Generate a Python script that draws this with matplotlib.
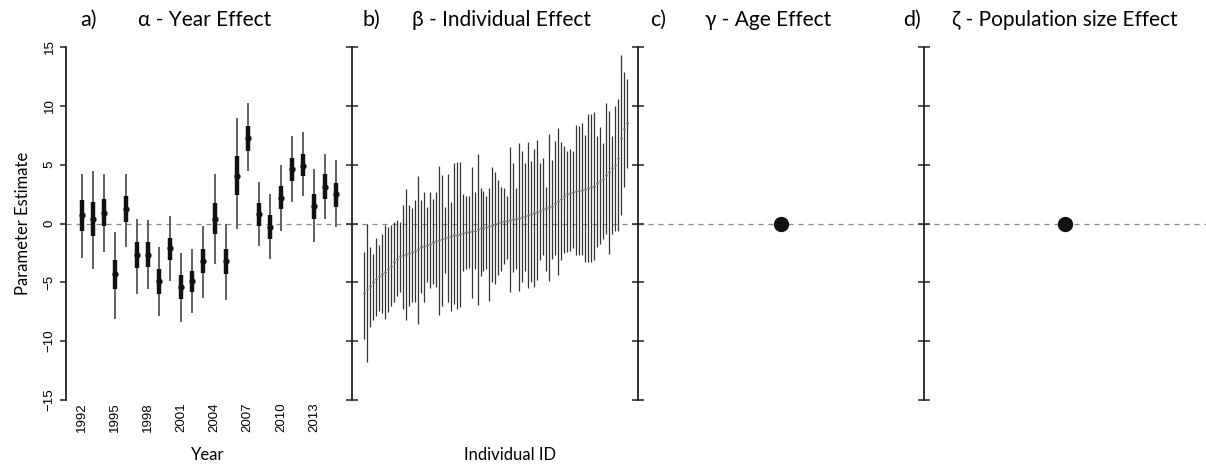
import numpy as np
import matplotlib
matplotlib.use("Agg")
import matplotlib.pyplot as plt

# ---- a) year effect ----
years = list(range(1992, 2016))
year_mean = [0.7, 0.4, 0.9, -4.3, 1.2, -2.7, -2.7, -4.9, -2.1, -5.4, -4.9, -3.2,
             0.4, -3.2, 4.0, 7.3, 0.8, -0.3, 2.2, 4.6, 4.9, 1.5, 3.1, 2.5]
year_lo95 = [-2.9, -3.9, -2.4, -8.1, -2.0, -6.0, -5.6, -7.9, -4.9, -8.4, -7.6, -6.3,
             -3.4, -6.5, -0.5, 4.5, -1.9, -3.0, -0.6, 1.8, 2.3, -1.6, 0.4, -0.3]
year_hi95 = [4.2, 4.5, 4.2, -0.7, 4.2, 0.4, 0.3, -2.0, 0.6, -2.5, -2.2, -0.2,
             4.2, 0.0, 9.0, 10.2, 3.5, 2.5, 5.0, 7.4, 7.8, 4.6, 5.9, 5.4]
year_lo50 = [-0.6, -1.1, -0.2, -5.6, 0.1, -3.8, -3.7, -6.0, -3.1, -6.4, -5.8, -4.2,
             -0.85, -4.3, 2.4, 6.2, -0.2, -1.3, 1.2, 3.6, 4.0, 0.4, 2.1, 1.4]
year_hi50 = [2.0, 1.8, 2.1, -3.1, 2.3, -1.6, -1.6, -3.9, -1.2, -4.4, -4.0, -2.2,
             1.75, -2.2, 5.7, 8.3, 1.75, 0.7, 3.2, 5.6, 5.9, 2.5, 4.2, 3.4]
year_ticks = [1992, 1995, 1998, 2001, 2004, 2007, 2010, 2013]

# ---- b) individual effect (sorted by estimate) ----
ind_mean = [-5.9, -5.6, -5.3, -5.0, -4.7, -4.5, -4.3, -4.1, -3.9, -3.6,
            -3.3, -3.0, -2.8, -2.7, -2.6, -2.5, -2.4, -2.3, -2.2, -2.0,
            -1.9, -1.8, -1.7, -1.6, -1.5, -1.4, -1.3, -1.2, -1.15, -1.1,
            -1.0, -0.95, -0.9, -0.8, -0.75, -0.7, -0.65, -0.6, -0.5, -0.4,
            -0.35, -0.3, -0.2, -0.1, 0.0, 0.05, 0.1, 0.2, 0.25, 0.3,
            0.35, 0.4, 0.5, 0.55, 0.6, 0.7, 0.8, 0.9, 1.0, 1.1,
            1.2, 1.3, 1.4, 1.5, 1.7, 1.9, 2.1, 2.3, 2.5, 2.6,
            2.7, 2.75, 2.8, 2.85, 2.9, 3.0, 3.1, 3.2, 3.4, 3.6,
            3.8, 4.1, 4.4, 4.7, 5.0, 5.6, 7.3, 8.0, 8.5]
ind_hi = [-2.4, 0.0, -2.0, -2.6, -1.2, -1.8, -0.9, -0.1, -0.3, -0.1,
          0.1, 0.3, 0.1, 1.6, 2.9, 1.6, 1.3, 2.0, 4.0, 2.0,
          2.7, 1.4, 2.7, 2.1, 2.7, 4.9, 4.1, 1.4, 4.2, 1.8,
          5.1, 5.2, 5.2, 2.5, 2.3, 2.3, 4.8, 2.7, 5.9, 3.0,
          2.8, 2.3, 3.0, 4.8, 4.4, 3.7, 3.1, 3.0, 2.3, 6.5,
          5.1, 3.0, 6.8, 6.2, 5.1, 6.9, 5.3, 6.3, 7.1, 5.1,
          5.6, 3.1, 7.6, 5.4, 7.0, 8.1, 6.9, 6.6, 6.2, 6.3,
          6.2, 8.4, 8.3, 8.5, 7.5, 9.3, 9.3, 9.5, 7.4, 8.2,
          6.8, 10.2, 9.6, 7.4, 10.0, 10.6, 14.3, 12.9, 12.3]
ind_lo = [-9.8, -11.8, -8.8, -8.2, -7.9, -7.4, -7.6, -8.1, -7.5, -7.0,
          -6.7, -6.2, -5.8, -7.3, -8.2, -7.0, -6.7, -6.7, -8.5, -5.9,
          -6.7, -5.0, -5.5, -5.1, -5.4, -7.8, -7.0, -4.2, -6.7, -7.4,
          -6.8, -7.3, -7.1, -4.0, -3.9, -3.8, -6.3, -3.9, -6.9, -4.5,
          -4.0, -3.9, -6.6, -5.0, -5.1, -4.4, -4.0, -3.4, -3.0, -5.8,
          -4.1, -3.9, -5.7, -5.0, -4.0, -5.5, -5.0, -5.4, -4.8, -3.1,
          -2.7, -4.0, -4.9, -3.0, -2.7, -4.4, -3.1, -2.5, -2.4, -2.3,
          -2.1, -2.7, -2.7, -2.7, -3.3, -3.3, -3.3, -3.1, -2.0, -1.7,
          -1.3, -0.9, -2.6, -0.9, -0.6, -0.6, 0.7, 3.1, 4.7]

# ---- c), d) single fixed effects ----
age_est = [0.0]
pop_est = [0.0]

titles = ["\u03b1 - Year Effect", "\u03b2 - Individual Effect",
          "\u03b3 - Age Effect", "\u03b6 - Population size Effect"]
letters = ["a)", "b)", "c)", "d)"]

W, H = 1206, 468
fig = plt.figure(figsize=(W / 100, H / 100), dpi=100)

bottom = 1 - 400 / H
height = 353 / H
lefts = [66, 352, 638, 924]
widths = [286, 286, 286, 282]
axes = [fig.add_axes([l / W, bottom, w / W, height]) for l, w in zip(lefts, widths)]

tick_font = dict(family="Liberation Sans", size=9.5)
label_font = ["Lato", "DejaVu Sans"]

for i, ax in enumerate(axes):
    ax.set_ylim(-15, 15)
    ax.axhline(0, color="#8a8a8a", lw=0.9, ls=(0, (4, 4)), zorder=0)
    for s in ["top", "right", "bottom"]:
        ax.spines[s].set_visible(False)
    ax.spines["left"].set_linewidth(1.3)
    ax.spines["left"].set_color("#222222")
    ax.set_yticks([-15, -10, -5, 0, 5, 10, 15])
    if i == 0:
        ax.tick_params(axis="y", direction="out", length=4, width=1.1, color="#222222")
        ax.set_yticklabels([f"{v}".replace("-", "\u2212") for v in [-15, -10, -5, 0, 5, 10, 15]],
                           rotation=90, va="center", **tick_font)
    else:
        ax.tick_params(axis="y", direction="inout", length=8, width=1.1, color="#222222",
                       labelleft=False)

# a)
ax = axes[0]
ax.vlines(years, year_lo95, year_hi95, color="#555555", lw=1.3, zorder=2)
ax.vlines(years, year_lo50, year_hi50, color="#111111", lw=3.2, zorder=3)
ax.plot(years, year_mean, "o", color="#111111", ms=3.5, zorder=4)
ax.set_xlim(1990.58, 2016.42)
ax.set_xticks(year_ticks)
ax.set_xticklabels([str(y) for y in year_ticks], rotation=90, **tick_font)
ax.tick_params(axis="x", length=0, pad=2)
ax.set_ylabel("Parameter Estimate", family=label_font, size=12, labelpad=9)

# b)
ax = axes[1]
ids = np.arange(1, len(ind_mean) + 1)
ax.vlines(ids, ind_lo, ind_hi, color="#333333", lw=0.9, zorder=2)
ax.plot(ids, ind_mean, "o", color="#666666", ms=0.8, zorder=3)
ax.set_xlim(-3.0, 92.7)
ax.set_xticks([])

# c), d)
for ax, est in zip(axes[2:], [age_est, pop_est]):
    ax.plot([1] * len(est), est, "o", color="#111111", ms=10, zorder=3)
    ax.set_xlim(0.5, 1.5)
    ax.set_xticks([])

# x labels placed as in the original figure
fig.text(208 / W, 1 - 455 / H, "Year", family=label_font, size=12, ha="center", va="center")
fig.text(510 / W, 1 - 455 / H, "Individual ID", family=label_font, size=12, ha="center", va="center")

# titles
letter_x = [80, 362, 650, 903]
title_x = [205, 501, 768, 1065]
for lx, tx, letter, t in zip(letter_x, title_x, letters, titles):
    fig.text(lx / W, 1 - 20 / H, letter, family=label_font, size=15.5, va="center", ha="left")
    fig.text(tx / W, 1 - 20 / H, t, family=label_font, size=15, va="center", ha="center")

fig.savefig("out.png", dpi=100)
